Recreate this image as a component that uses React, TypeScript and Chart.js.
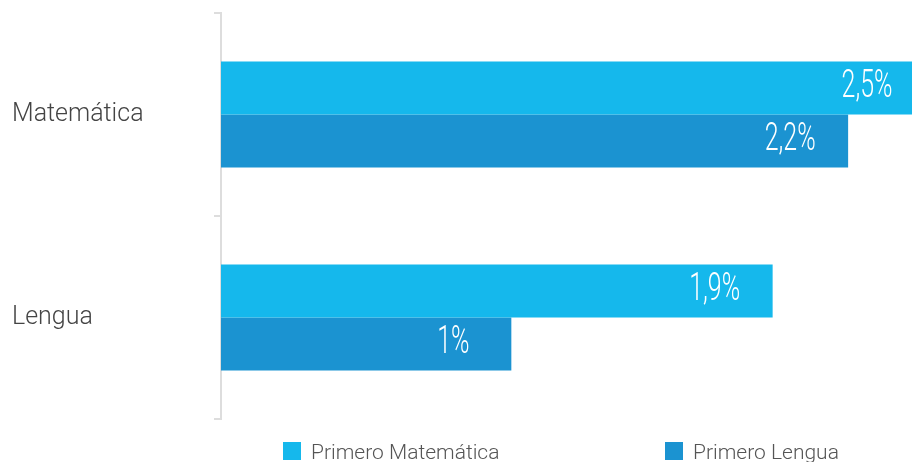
import React, { useEffect, useRef } from "react";
import { Chart, registerables } from "chart.js";

Chart.register(...registerables);

const categories = ["Matemática", "Lengua"];
const seriesNames = ["Primero Matemática", "Primero Lengua"];
const matematicaValues = [2.5, 1.9];
const lenguaValues = [2.16, 1.0];
const matematicaLabels = ["2,5%", "1,9%"];
const lenguaLabels = ["2,2%", "1%"];
const colors = ["#15b8ec", "#1b93d1"];
const valueLabels = [matematicaLabels, lenguaLabels];

const barLabelPlugin = {
  id: "barLabels",
  afterDatasetsDraw(chart: any) {
    const ctx = chart.ctx;
    const area = chart.chartArea;
    chart.data.datasets.forEach((ds: any, di: number) => {
      const meta = chart.getDatasetMeta(di);
      meta.data.forEach((bar: any, i: number) => {
        const text = valueLabels[di][i];
        let cx = bar.x - 58;
        if (cx > area.right - 45) cx = area.right - 45;
        ctx.save();
        ctx.translate(cx, bar.y - 1);
        ctx.scale(0.64, 1);
        ctx.font = "300 39px Roboto";
        ctx.fillStyle = "#ffffff";
        ctx.textAlign = "center";
        ctx.textBaseline = "middle";
        ctx.fillText(text, 0, 0);
        ctx.restore();
      });
    });
  },
};

const legendPlugin = {
  id: "customLegend",
  afterDraw(chart: any) {
    const ctx = chart.ctx;
    const positions = [283, 665];
    chart.data.datasets.forEach((ds: any, di: number) => {
      const x = positions[di];
      ctx.save();
      ctx.fillStyle = ds.backgroundColor;
      ctx.fillRect(x, 442, 18, 18);
      ctx.font = "300 21px Roboto";
      ctx.fillStyle = "#555555";
      ctx.textAlign = "left";
      ctx.textBaseline = "alphabetic";
      ctx.fillText(ds.label, x + 28, 459);
      ctx.restore();
    });
  },
};

export default function App() {
  const ref = useRef<HTMLCanvasElement | null>(null);
  useEffect(() => {
    if (!ref.current) return;
    const chart = new Chart(ref.current, {
      type: "bar",
      data: {
        labels: categories,
        datasets: [
          {
            label: seriesNames[0],
            data: matematicaValues,
            backgroundColor: colors[0],
            borderWidth: 0,
            categoryPercentage: 0.522,
            barPercentage: 1,
          },
          {
            label: seriesNames[1],
            data: lenguaValues,
            backgroundColor: colors[1],
            borderWidth: 0,
            categoryPercentage: 0.522,
            barPercentage: 1,
          },
        ],
      },
      options: {
        indexAxis: "y",
        animation: false,
        responsive: true,
        maintainAspectRatio: false,
        layout: { padding: { left: 12, top: 13, bottom: 43, right: 0 } },
        plugins: {
          legend: { display: false },
          tooltip: { enabled: false },
        },
        scales: {
          x: {
            display: false,
            min: 0,
            max: 2.38,
          },
          y: {
            afterFit(scale: any) {
              scale.width = 209;
              scale.paddingTop = 0;
              scale.paddingBottom = 0;
            },
            border: { display: true, color: "#dddddd", width: 2 },
            grid: {
              display: true,
              drawOnChartArea: false,
              drawTicks: true,
              tickLength: 7,
              color: "#dddddd",
              lineWidth: 2,
            },
            ticks: {
              crossAlign: "far",
              color: "#444444",
              font: { family: "Roboto", size: 25, weight: "300" },
            },
          },
        },
      },
      plugins: [barLabelPlugin, legendPlugin],
    });
    return () => chart.destroy();
  }, []);
  return (
    <div style={{ position: "fixed", left: 0, top: 0, width: 912, height: 462, background: "#fff" }}>
      <canvas ref={ref} />
    </div>
  );
}
